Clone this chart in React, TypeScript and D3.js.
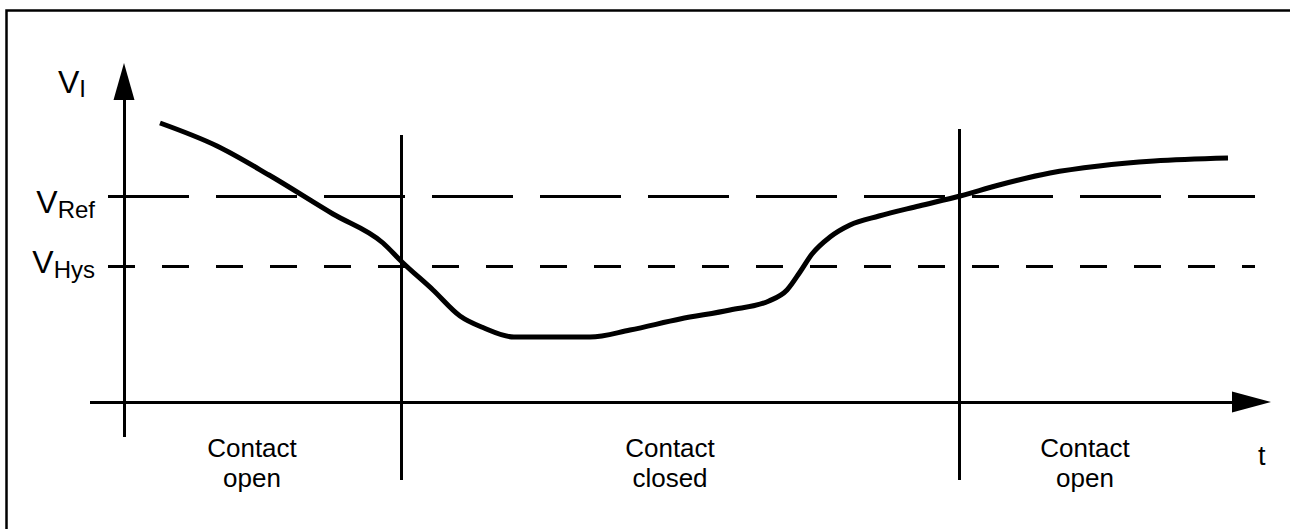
import React from "react";
import * as d3 from "d3";

// Signal V_I over time (arbitrary units; origin at axis crossing)
const curveT = [3.6, 9.3, 14.5, 20.9, 25.9, 27.8, 30.9, 33.6, 36.0, 39.0, 43.0, 46.6, 50.6, 55.6, 60.6, 64.5, 66.3, 67.6, 68.8, 70.6, 72.6, 75.5, 79.5, 83.6, 87.5, 92.6, 97.5, 103.0, 110.4];
const curveV = [27.9, 25.6, 22.7, 18.8, 15.9, 14.0, 11.2, 8.6, 7.4, 6.5, 6.5, 6.5, 7.2, 8.3, 9.2, 10.1, 11.2, 13.0, 14.8, 16.5, 17.7, 18.6, 19.6, 20.6, 21.7, 22.9, 23.6, 24.1, 24.4];

// Threshold levels
const vRef = 20.6;
const vHys = 13.6;

// Contact switching instants
const switchT = [27.7, 83.5];
const switchTopV = [26.7, 27.3];

// Region labels
const regionLabels = [
  { t: 12.8, lines: ["Contact", "open"] },
  { t: 54.6, lines: ["Contact", "closed"] },
  { t: 96.1, lines: ["Contact", "open"] },
];

const W = 1290;
const H = 529;

export default function App() {
  const x = d3.scaleLinear().domain([0, 114.7]).range([124, 1271]);
  const y = d3.scaleLinear().domain([0, 33.9]).range([402, 63]);

  const pts: [number, number][] = curveT.map((t, i) => [t, curveV[i]]);
  const line = d3
    .line<[number, number]>()
    .x((d) => x(d[0]))
    .y((d) => y(d[1]))
    .curve(d3.curveMonotoneX);

  const font = "'Liberation Sans', Arial, Helvetica, sans-serif";
  const x0 = x(0);
  const y0 = y(0);
  const dashStart = x(-1.6);
  const dashEnd = x(113.1);

  // arrows
  const yTip = y(33.9);
  const yBase = y(30.2);
  const xTip = x(114.7);
  const xBase = x(110.8);

  return (
    <div style={{ position: "absolute", left: 0, top: 0 }}>
      <svg width={W} height={H} style={{ display: "block", background: "#fff" }}>
        {/* frame */}
        <path d={`M6.5,${H} V10.5 H${W}`} fill="none" stroke="#000" strokeWidth={2.5} />

        {/* threshold lines */}
        <line x1={dashStart} x2={dashEnd} y1={y(vRef)} y2={y(vRef)} stroke="#000" strokeWidth={3} strokeDasharray="81 27" shapeRendering="crispEdges" />
        <line x1={dashStart} x2={dashEnd} y1={y(vHys)} y2={y(vHys)} stroke="#000" strokeWidth={3} strokeDasharray="27 27" shapeRendering="crispEdges" />

        {/* y axis */}
        <line x1={x0} x2={x0} y1={y(-3.5)} y2={yBase} stroke="#000" strokeWidth={3} shapeRendering="crispEdges" />
        <path d={`M${x0},${yTip} L${x0 + 10.5},${yBase} L${x0 - 10.5},${yBase} Z`} fill="#000" />
        {/* x axis */}
        <line x1={x(-3.4)} x2={xBase} y1={y0} y2={y0} stroke="#000" strokeWidth={3} shapeRendering="crispEdges" />
        <path d={`M${xTip},${y0} L${xBase},${y0 - 10.5} L${xBase},${y0 + 10.5} Z`} fill="#000" />

        {/* switching lines */}
        {switchT.map((t, i) => (
          <line key={i} x1={x(t)} x2={x(t)} y1={y(switchTopV[i])} y2={y(-7.8)} stroke="#000" strokeWidth={3} shapeRendering="crispEdges" />
        ))}

        {/* signal */}
        <path d={line(pts) || ""} fill="none" stroke="#000" strokeWidth={5} strokeLinejoin="round" />

        {/* labels */}
        <text x={58} y={93} fontFamily={font} fontSize={32} fill="#000">
          V<tspan fontSize={24} dy={4}>I</tspan>
        </text>
        <text x={95} y={213} fontFamily={font} fontSize={32} fill="#000" textAnchor="end">
          V<tspan fontSize={24} dy={5}>Ref</tspan>
        </text>
        <text x={95} y={273} fontFamily={font} fontSize={32} fill="#000" textAnchor="end">
          V<tspan fontSize={24} dy={5}>Hys</tspan>
        </text>
        <text x={1258} y={465} fontFamily={font} fontSize={27} fill="#000">t</text>

        {regionLabels.map((r, i) => (
          <text key={i} x={x(r.t)} y={457} fontFamily={font} fontSize={26} fill="#000" textAnchor="middle">
            {r.lines.map((l, j) => (
              <tspan key={j} x={x(r.t)} dy={j === 0 ? 0 : 30}>
                {l}
              </tspan>
            ))}
          </text>
        ))}
      </svg>
    </div>
  );
}
